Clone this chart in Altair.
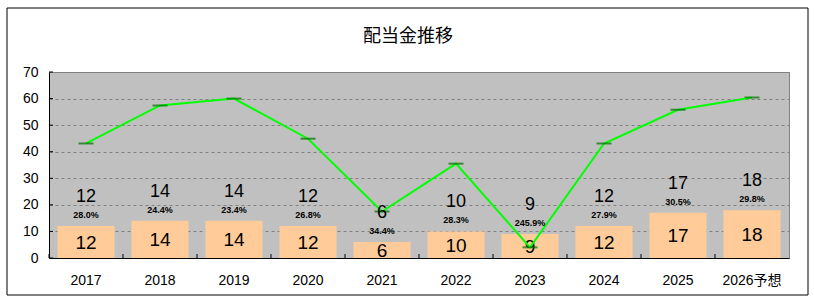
import altair as alt
import pandas as pd

FONT = "Liberation Sans, Noto Sans CJK JP"
TFONT = "Noto Sans CJK JP"
TITLE = "配当金推移"

years = ["2017", "2018", "2019", "2020", "2021", "2022", "2023", "2024", "2025", "2026予想"]
dividend = [12, 14, 14, 12, 6, 10, 9, 12, 17, 18]
payout = ["28.0%", "24.4%", "23.4%", "26.8%", "34.4%", "28.3%", "245.9%", "27.9%", "30.5%", "29.8%"]
line_vals = [43.1, 57.4, 60.0, 44.9, 17.5, 35.5, 4.0, 43.1, 55.8, 60.4]
y_ticks = [0, 10, 20, 30, 40, 50, 60, 70]

df = pd.DataFrame({"year": years, "div": dividend, "pay": payout, "val": line_vals})
df["half"] = df["div"] / 2

yscale = alt.Scale(domain=[0, 70], nice=False)
xscale = alt.Scale(paddingInner=0.23, paddingOuter=0.115)

xaxis = alt.Axis(title=None, labelAngle=0, ticks=False, domainColor="black",
                 labelFontSize=14, labelFont=FONT, labelColor="black", labelPadding=15)
yaxis = alt.Axis(title=None, values=y_ticks, ticks=False, domainColor="black",
                 grid=True, gridDash=[3, 3], gridColor="#808080", gridOpacity=1,
                 labelOverlap=False, labelFontSize=14, labelFont=FONT,
                 labelColor="black", labelPadding=11)


def X(**kw):
    return alt.X("year:N", sort=years, scale=xscale, axis=xaxis, **kw)


def Y(field):
    return alt.Y(field, scale=yscale, axis=yaxis)


base = alt.Chart(df)

bars = base.mark_bar(color="#FFCC99").encode(x=X(), y=Y("div:Q"))

inner = base.mark_text(font=FONT, fontSize=19, color="black", baseline="middle", dy=1).encode(
    x=X(), y=Y("half:Q"), text="div:Q")

line = base.mark_line(color="#00FF00", strokeWidth=2).encode(x=X(), y=Y("val:Q"))
markers = base.mark_tick(color="#007000", size=15, thickness=2, orient="horizontal").encode(
    x=X(), y=Y("val:Q"))

top_num = base.mark_text(font=FONT, fontSize=18, color="black", baseline="middle", dy=-29).encode(
    x=X(), y=Y("div:Q"), text="div:Q")
top_pct = base.mark_text(font=FONT, fontSize=9, fontWeight="bold", color="black",
                         baseline="middle", dy=-11).encode(
    x=X(), y=Y("div:Q"), text="pay:N")

xticks = base.mark_rule(color="black", xOffset=-8.5).encode(
    x=X(bandPosition=0), y=alt.value(182), y2=alt.value(186))

yticks = alt.Chart(pd.DataFrame({"v": y_ticks})).mark_rule(color="black").encode(
    y=Y("v:Q"), x=alt.value(0), x2=alt.value(4))

frame = alt.Chart(pd.DataFrame({"a": [0]})).mark_rect(
    fill="transparent", stroke="black", strokeWidth=1).encode(
    x=alt.value(-42), x2=alt.value(759), y=alt.value(-64), y2=alt.value(223))

title = alt.Chart(pd.DataFrame({"t": [TITLE]})).mark_text(
    font=TFONT, fontSize=18, color="black", baseline="middle", align="center").encode(
    x=alt.value(359), y=alt.value(-35), text="t:N")

chart = alt.layer(
    bars, inner, line, markers, top_num, top_pct, xticks, yticks, frame, title
).properties(
    width=740, height=186,
    autosize=alt.AutoSizeParams(type="none"),
    padding={"left": 49, "top": 72, "right": 25, "bottom": 45},
).configure(background="white").configure_view(fill="#C0C0C0", stroke="#808080", strokeWidth=1)

chart.save("out.html", embed_options={"renderer": "svg", "actions": False})
